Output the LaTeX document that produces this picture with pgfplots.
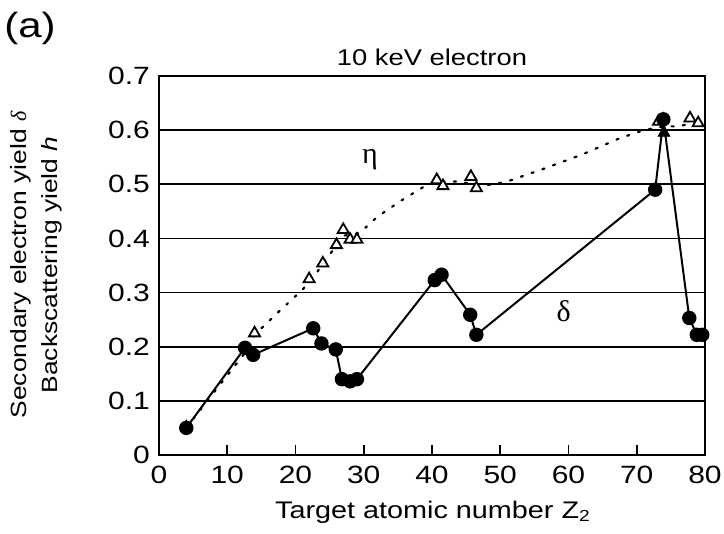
\documentclass[border=0pt]{standalone}
\usepackage{fontspec}
\setmainfont[FakeStretch=1.2]{Liberation Sans}
\newfontfamily\grk{Liberation Serif}
\usepackage{pgfplots}
\pgfplotsset{compat=1.18}
\begin{document}
\begin{tikzpicture}
\path[use as bounding box] (-79.5pt,-39.5pt) rectangle (282.5pt,227.5pt);
\begin{axis}[
  at={(0,0)}, anchor=south west,
  scale only axis, width=273pt, height=189.5pt,
  xmin=0, xmax=80, ymin=0, ymax=0.7,
  xtick={0,10,20,30,40,50,60,70,80},
  xticklabels={0,10,20,30,40,50,60,70,80},
  ytick={0,0.1,0.2,0.3,0.4,0.5,0.6,0.7},
  yticklabels={0,0.1,0.2,0.3,0.4,0.5,0.6,0.7},
  tick align=inside, xtick pos=bottom, ytick pos=left,
  ytick style={draw=none},
  xtick style={line width=0.9pt, black},
  major tick length=5pt,
  ymajorgrids, grid style={black, line width=0.9pt},
  axis line style={line width=1pt},
  tick label style={font=\fontsize{12.5}{14}\selectfont},
  yticklabel style={xshift=-1pt},
  xticklabel style={yshift=-2pt},
  /pgf/number format/assume math mode=true,
  clip=false,
]
% eta fitted curve (dotted)
\addplot[black, line width=1.1pt, dash pattern=on 1.1pt off 4.6pt, line cap=round] coordinates {
(4,0.05) (8,0.115) (13,0.195) (14,0.222) (18,0.27) (21,0.305) (23,0.335) (25,0.37) (27,0.405)
(29.4,0.41) (32,0.44) (35.5,0.47) (39,0.497) (41,0.505) (44,0.505) (46,0.5) (48.5,0.499)
(51,0.505) (56,0.527) (62,0.555) (67.5,0.585) (71,0.6) (74,0.607) (76,0.607) (78,0.612) (80,0.612)
};
% eta data (open triangles)
\addplot[only marks, mark=triangle*, mark size=3.2pt, mark options={fill=white, draw=black, line width=0.9pt}] coordinates {
(14,0.225) (22,0.325) (24,0.354) (26,0.388) (27,0.416) (28,0.398) (29,0.398)
(40.7,0.508) (41.6,0.497) (45.7,0.514) (46.5,0.493)
(73.2,0.616) (77.8,0.622) (79,0.613)
};
% delta data
\addplot[black, line width=1pt, mark=*, mark size=3.1pt, mark options={fill=black}] coordinates {
(4,0.05) (12.6,0.198) (13.8,0.185) (22.6,0.234) (23.8,0.206) (25.9,0.195)
(26.8,0.14) (28,0.136) (29,0.14) (40.4,0.323) (41.4,0.333) (45.6,0.259) (46.5,0.222)
(72.7,0.49) (73.9,0.62) (77.7,0.253) (78.8,0.222) (79.6,0.222)
};
% filled triangles
\addplot[only marks, mark=triangle*, mark size=3.4pt, mark options={fill=black, draw=black}] coordinates {
(4,0.052) (74,0.595)
};
\node[font=\grk\fontsize{15}{17}\selectfont] at (axis cs:30.9,0.545) {η};
\node[font=\grk\fontsize{15}{17}\selectfont] at (axis cs:59.3,0.265) {δ};
\end{axis}
\node[font=\fontsize{17.5}{20}\selectfont] at (-64.5pt,213.5pt) {(a)};
\node[font=\fontsize{11.4}{14}\selectfont] at (136.5pt,199pt) {10 keV electron};
\node[rotate=90, align=center, font=\fontsize{11}{15.5}\selectfont] at (-61.5pt,95pt) {Secondary electron yield {\grk\itshape δ}\\Backscattering yield \textit{h}};
\node[font=\fontsize{12}{14}\selectfont] at (137pt,-28.5pt) {Target atomic number Z\textsubscript{2}};
\end{tikzpicture}
\end{document}
